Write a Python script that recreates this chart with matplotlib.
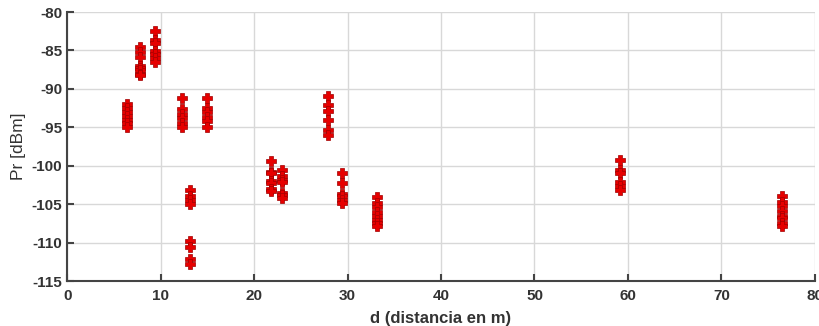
import matplotlib.pyplot as plt

# distancia de cada punto de medida (m)
distancias = [6.4, 7.8, 9.4, 12.3, 13.15, 15.0, 21.8, 22.95, 27.9, 29.4, 33.1, 59.1, 76.5]

# potencia recibida medida en cada punto (dBm)
pr_medidas = [
    [-92.0, -92.5, -93.0, -93.5, -94.0, -94.5, -95.0],
    [-84.5, -85.2, -85.8, -87.0, -87.3, -87.6, -88.0, -88.2],
    [-82.5, -83.6, -84.0, -85.1, -85.5, -86.0, -86.5],
    [-91.2, -92.6, -93.3, -93.8, -94.4, -95.0],
    [-103.2, -103.9, -104.5, -105.0, -109.8, -110.6, -112.2, -112.8],
    [-91.2, -92.5, -93.0, -93.6, -94.2, -95.0],
    [-99.4, -100.8, -101.0, -102.0, -102.2, -103.0, -103.3],
    [-100.6, -101.3, -101.8, -102.1, -103.5, -103.8, -104.2],
    [-90.9, -92.1, -92.9, -94.1, -95.4, -96.0],
    [-100.9, -102.3, -103.7, -104.0, -104.4, -104.9],
    [-104.1, -104.9, -105.4, -106.0, -106.5, -107.0, -107.4, -107.9],
    [-99.3, -100.6, -100.9, -102.1, -102.7, -103.2],
    [-104.0, -104.7, -105.2, -105.9, -106.5, -106.8, -107.4, -107.9],
]

plt.rcParams['font.family'] = ['Liberation Sans', 'DejaVu Sans']
plt.rcParams['axes.unicode_minus'] = False

fig = plt.figure(figsize=(8.19, 3.26), dpi=100)
ax = fig.add_axes([0.082, 0.138, 0.913, 0.825])

for d, pr in zip(distancias, pr_medidas):
    ax.plot([d] * len(pr), pr, linestyle='none', marker='P', markersize=6.5,
            markerfacecolor='#e60000', markeredgecolor='#a00000', markeredgewidth=0.5)

ax.set_xlim(0, 80)
ax.set_ylim(-115, -80)
ax.set_xticks(range(0, 81, 10))
ax.set_yticks(range(-115, -79, 5))
ax.grid(True, color='#d8d8d8', linewidth=1)
ax.set_axisbelow(True)
for s in ['top', 'right']:
    ax.spines[s].set_visible(False)
for s in ['left', 'bottom']:
    ax.spines[s].set_color('#444444')
    ax.spines[s].set_linewidth(1.5)
ax.tick_params(direction='in', length=5, width=1.5, color='#444444',
               labelsize=11, labelcolor='#333333')
ax.tick_params(axis='x', pad=6)
for lab in ax.get_xticklabels() + ax.get_yticklabels():
    lab.set_fontweight('bold')

ax.set_xlabel('d (distancia en m)', fontsize=12, fontweight='bold', color='#333333')
ax.xaxis.set_label_coords(0.5, -0.11)
ax.set_ylabel('Pr [dBm]', fontsize=12.5, color='#333333', labelpad=4)

fig.savefig('out.png', dpi=100)
